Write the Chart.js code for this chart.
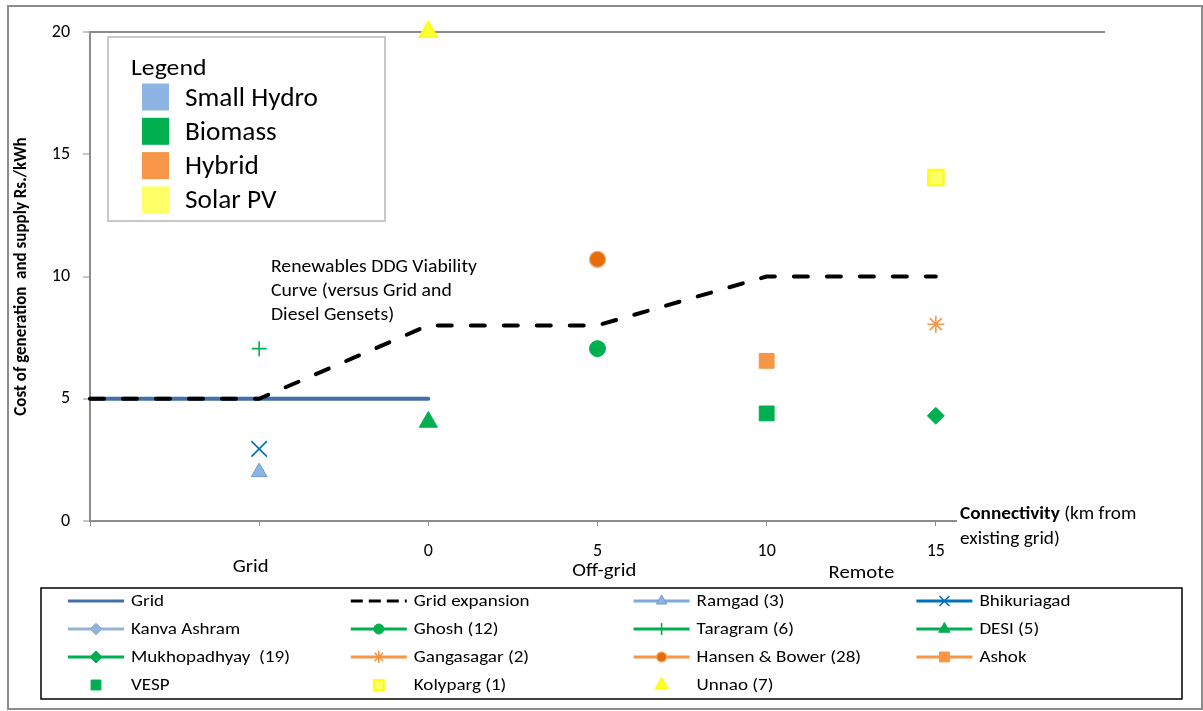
<!DOCTYPE html>
<html><head><meta charset="utf-8">
<script src="https://cdn.jsdelivr.net/npm/chart.js@4.4.1/dist/chart.umd.min.js"></script>
<style>html,body{margin:0;padding:0;background:#fff}#wrap{position:relative;width:1203px;height:711px}canvas{display:block}</style>
</head><body><div id="wrap"><canvas id="c" width="1203" height="711"></canvas></div>
<script>
// ---- data ----
const xTickValues = [2, 3, 4, 5];
const xTickLabels = ['0', '5', '10', '15'];
const regionLabels = ['Grid', 'Off-grid', 'Remote'];
const regionX = [0.95, 3.04, 4.56];
const yTicks = [0, 5, 10, 15, 20];

const gridPts = [{x:0,y:5},{x:1,y:5},{x:2,y:5}];
const expansionPts = [{x:0,y:5},{x:1,y:5},{x:2,y:8},{x:3,y:8},{x:4,y:10},{x:5,y:10}];
const ramgad = [{x:1,y:2}];
const bhikuriagad = [{x:1,y:2.95}];
const kanvaAshram = [];
const ghosh = [{x:3,y:7.05}];
const taragram = [{x:1,y:7.05}];
const desi = [{x:2,y:4.05}];
const mukhopadhyay = [{x:5,y:4.3}];
const gangasagar = [{x:5,y:8.05}];
const hansenBower = [{x:3,y:10.7}];
const ashok = [{x:4,y:6.55}];
const vesp = [{x:4,y:4.4}];
const kolyparg = [{x:5,y:14.05}];
const unnao = [{x:2,y:20}];

const techNames = ['Small Hydro', 'Biomass', 'Hybrid', 'Solar PV'];
const techColors = ['#8DB4E2', '#00B050', '#F79646', '#FFFF66'];

const annotationLines = ['Renewables DDG Viability', 'Curve (versus Grid and', 'Diesel Gensets)'];

const FONT = 'Carlito, "Open Sans", Lato, sans-serif';

function pt(label, data, style, radius, fill, stroke, bw, legendLine, legendColor, legendRadius) {
  return {label, data, showLine:false, pointStyle:style, pointRadius:radius, pointHoverRadius:radius,
    pointBackgroundColor:fill, pointBorderColor:stroke, pointBorderWidth:bw,
    borderColor: legendColor || stroke, backgroundColor: fill, clip:false, order:0,
    legendLine, legendRadius};
}

const datasets = [
  {label:'Grid', data:gridPts, showLine:true, borderColor:'#4470A8', borderWidth:4, pointRadius:0,
   borderCapStyle:'round', order:5, clip:false, legendLine:true, legendNoPoint:true},
  {label:'Grid expansion', data:expansionPts, showLine:true, borderColor:'#000000', borderWidth:4,
   borderDash:[14,19], borderCapStyle:'round', borderJoinStyle:'round', pointRadius:0, order:4, clip:false,
   legendLine:true, legendNoPoint:true, legendDash:[12,6]},
  pt('Ramgad (3)', ramgad, 'triangle', 9, '#8DB4E2', '#6F9CD6', 1, true, '#7FA8DD', 6),
  pt('Bhikuriagad', bhikuriagad, 'crossRot', 11, '#0070C0', '#0070C0', 1.6, true, '#0070C0', 7),
  pt('Kanva Ashram', kanvaAshram, 'rectRot', 8, '#95B3D7', '#95B3D7', 1, true, '#95B3D7', 6),
  pt('Ghosh (12)', ghosh, 'circle', 8, '#00B050', '#00B050', 1, true, '#00B050', 5),
  pt('Taragram (6)', taragram, 'cross', 7.5, '#00B050', '#00B050', 1.6, true, '#00B050', 6),
  pt('DESI (5)', desi, 'triangle', 10.5, '#00B050', '#00B050', 1, true, '#00B050', 6.5),
  pt('Mukhopadhyay  (19)', mukhopadhyay, 'rectRot', 8.5, '#00B050', '#00B050', 1, true, '#00B050', 6),
  pt('Gangasagar (2)', gangasagar, 'star', 8.5, '#F79646', '#F79646', 1.6, true, '#F79646', 6),
  pt('Hansen & Bower (28)', hansenBower, 'circle', 8, '#E46C0A', '#F7A35C', 1.2, true, '#F79646', 5),
  pt('Ashok', ashok, 'rect', 10.5, '#F79646', '#F79646', 1, true, '#F79646', 7),
  pt('VESP', vesp, 'rect', 10.5, '#00B050', '#00B050', 1, false, '#00B050', 7),
  pt('Kolyparg (1)', kolyparg, 'rect', 11, '#FFFF66', '#FFFF00', 2, false, '#FFFF00', 7),
  pt('Unnao (7)', unnao, 'triangle', 10.5, '#FFFF33', '#FFFF00', 1.5, false, '#FFFF00', 7)
];

function drawMarker(ctx, style, r, x, y, fill, stroke, bw) {
  ctx.save();
  ctx.fillStyle = fill; ctx.strokeStyle = stroke; ctx.lineWidth = bw;
  if (Chart.helpers && Chart.helpers.drawPoint) {
    Chart.helpers.drawPoint(ctx, {pointStyle: style, radius: r, rotation: 0, borderWidth: bw}, x, y);
  }
  ctx.restore();
}

// text drawn with a slight horizontal stretch, like the reference
function sText(ctx, t, x, y, sx, align) {
  ctx.save();
  ctx.translate(x, y); ctx.scale(sx, 1);
  ctx.textAlign = align || 'left';
  ctx.fillText(t, 0, 0);
  ctx.restore();
}

const decor = {
  id: 'decor',
  afterDraw(chart) {
    const ctx = chart.ctx;
    const xs = chart.scales.x, ys = chart.scales.y;
    ctx.save();
    ctx.textBaseline = 'middle';
    // outer frame
    ctx.strokeStyle = '#8C8C8C'; ctx.lineWidth = 2;
    ctx.strokeRect(8, 6, 1194, 703);

    // inner "Legend" box
    ctx.fillStyle = '#fff'; ctx.fillRect(108, 37, 277, 184);
    ctx.strokeStyle = '#C8C8C8'; ctx.lineWidth = 2; ctx.strokeRect(108, 37, 277, 184);
    ctx.fillStyle = '#000';
    ctx.font = '23px ' + FONT;
    sText(ctx, 'Legend', 131, 69, 1.12);
    ctx.font = '26px ' + FONT;
    techNames.forEach((n, i) => {
      const cy = 97 + i * 34.3;
      ctx.fillStyle = techColors[i];
      ctx.fillRect(142, cy - 13.5, 27, 27);
      ctx.fillStyle = '#000';
      sText(ctx, n, 185, cy + 2, 1.05);
    });

    // annotation
    ctx.font = '17.5px ' + FONT;
    ctx.fillStyle = '#000';
    annotationLines.forEach((t, i) => sText(ctx, t, 271, 268 + i * 24, 1.125));

    // connectivity text box (covers end of axis line)
    ctx.fillStyle = '#fff'; ctx.fillRect(957, 500, 220, 52);
    ctx.fillStyle = '#000';
    ctx.font = 'bold 18px ' + FONT;
    sText(ctx, 'Connectivity', 960, 514, 1.07);
    const w = ctx.measureText('Connectivity ').width * 1.07;
    ctx.font = '18px ' + FONT;
    sText(ctx, '(km from', 960 + w, 514, 1.07);
    sText(ctx, 'existing grid)', 960, 539, 1.07);

    // region labels
    ctx.font = '19px ' + FONT;
    const offs = [46, 50, 52];
    regionLabels.forEach((t, i) => sText(ctx, t, xs.getPixelForValue(regionX[i]), ys.bottom + offs[i], 1.09, 'center'));

    // bottom legend
    const bx = 41, by = 588, bw = 1141, bh = 111;
    ctx.strokeStyle = '#000'; ctx.lineWidth = 1.5; ctx.strokeRect(bx, by, bw, bh);
    ctx.font = '17px ' + FONT;
    chart.data.datasets.forEach((ds, i) => {
      const col = i % 4, row = Math.floor(i / 4);
      const lx = 68 + col * 282.8, ly = 601 + row * 28;
      if (ds.legendLine) {
        ctx.save();
        ctx.strokeStyle = ds.borderColor; ctx.lineWidth = 3;
        if (ds.legendDash) { ctx.setLineDash(ds.legendDash); ctx.lineCap = 'butt'; }
        ctx.beginPath(); ctx.moveTo(lx, ly); ctx.lineTo(lx + 56, ly); ctx.stroke();
        ctx.restore();
      }
      if (!ds.legendNoPoint) {
        drawMarker(ctx, ds.pointStyle, ds.legendRadius, lx + 28, ly, ds.pointBackgroundColor, ds.pointBorderColor, ds.pointBorderWidth);
      }
      ctx.fillStyle = '#000';
      sText(ctx, ds.label, lx + 63, ly + 1, 1.12);
    });
    ctx.restore();
  }
};

new Chart(document.getElementById('c'), {
  type: 'scatter',
  data: { datasets },
  options: {
    responsive: false, animation: false, devicePixelRatio: 1,
    layout: { padding: { left: 0, top: 32, right: 98, bottom: 0 } },
    plugins: { legend: { display: false }, tooltip: { enabled: false } },
    scales: {
      x: {
        type: 'linear', min: 0, max: 6,
        afterFit: s => { s.height = 190; },
        afterBuildTicks: s => { s.ticks = [0,1,2,3,4,5,6].map(v => ({value: v})); },
        ticks: {
          autoSkip: false, maxRotation: 0, padding: 15, color: '#000',
          font: { size: 18, family: FONT },
          callback: v => { const k = xTickValues.indexOf(v); return k >= 0 ? xTickLabels[k] : ''; }
        },
        grid: { drawOnChartArea: false, drawTicks: true, tickLength: 5, tickColor: '#8C8C8C', tickWidth: 1 },
        border: { color: '#8C8C8C', width: 2 }
      },
      y: {
        type: 'linear', min: 0, max: 20,
        afterFit: s => { s.width = 90; },
        afterBuildTicks: s => { s.ticks = yTicks.map(v => ({value: v})); },
        ticks: { padding: 13, color: '#000', font: { size: 18, family: FONT } },
        grid: { color: c => (c.tick && c.tick.value === 20) ? '#8C8C8C' : 'rgba(0,0,0,0)', lineWidth: 2,
                drawTicks: true, tickLength: 7, tickColor: '#8C8C8C', tickWidth: 1 },
        border: { color: '#8C8C8C', width: 2 },
        title: { display: true, text: 'Cost of generation  and supply Rs./kWh', color: '#000',
                 font: { size: 17, weight: 'bold', family: FONT }, padding: { top: 12, bottom: 0 } }
      }
    }
  },
  plugins: [decor]
});
</script>
</body></html>
